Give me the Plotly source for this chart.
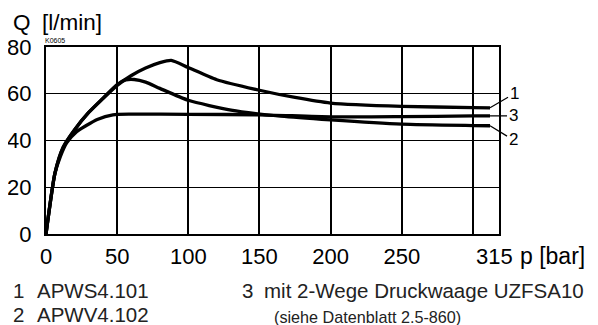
import plotly.graph_objects as go

# ---- data ----
p1 = [0, 6.3, 12, 20, 30, 40, 50, 60, 70, 80, 88, 100, 120, 150, 175, 200, 250, 300, 312]
q1 = [0, 26, 37, 44.5, 52, 58, 63.6, 67.8, 71, 73.3, 74.3, 71.2, 66, 61.5, 58.4, 56, 54.6, 54.1, 54]

p2 = [0, 6.3, 12, 20, 30, 40, 50, 56, 62, 70, 80, 100, 130, 165, 200, 250, 300, 312]
q2 = [0, 26, 37, 44.5, 52, 58, 63.9, 65.9, 66.1, 65, 62.3, 57.2, 53, 50.4, 48.8, 47, 46.4, 46.3]

p3 = [0, 6.3, 10, 14.5, 21.5, 28, 36, 47, 60, 100, 150, 200, 250, 300, 312]
q3 = [0, 26, 33, 39, 43.8, 46.3, 49, 51, 51.3, 51.2, 51, 50.1, 50.2, 50.5, 50.5]

x_ticks = [0, 50, 100, 150, 200, 250, 315]
x_tick_text = ["0", "50", "100", "150", "200", "250", "315"]
x_grid = [0, 50, 100, 150, 200, 250, 300]
y_ticks = [0, 20, 40, 60, 80]

curve_labels = ["1", "2", "3"]
legend_nums = ["1", "2", "3"]
legend_names = ["APWS4.101", "APWV4.102", "mit 2-Wege Druckwaage UZFSA10"]
note_text = "(siehe Datenblatt 2.5-860)"

FONT = "Liberation Sans, Arial, sans-serif"

fig = go.Figure()
for px, qy in [(p1, q1), (p2, q2), (p3, q3)]:
    fig.add_trace(go.Scatter(x=px, y=qy, mode="lines",
                             line=dict(color="black", width=3.3, shape="spline", smoothing=0.6),
                             showlegend=False, hoverinfo="skip"))

# page body has an 8px margin: figure is 590x317 so that it fills the 598x325 window
fig.update_layout(
    width=590, height=317,
    margin=dict(l=38, r=99, t=39, b=91, autoexpand=False),
    paper_bgcolor="white", plot_bgcolor="white",
    font=dict(family=FONT, color="black"),
    xaxis=dict(range=[0, 318.3], tickvals=x_ticks, ticktext=x_tick_text, automargin=False,
               showgrid=False, zeroline=False, ticks="",
               showline=True, linecolor="black", linewidth=2, mirror=True,
               tickfont=dict(size=22, color="black"), ticklabelstandoff=2,
               minor=dict(tickvals=x_grid, showgrid=True, gridcolor="black", gridwidth=1.8, ticks="")),
    yaxis=dict(range=[0, 80], tickvals=y_ticks, showgrid=True, gridcolor="black", gridwidth=1,
               zeroline=False, ticks="", automargin=False,
               showline=True, linecolor="black", linewidth=2, mirror=True,
               tickfont=dict(size=22, color="black"), ticklabelstandoff=8),
)

# curve labels with leader lines
ends = [(p1[-1], q1[-1], 24, -14), (p2[-1], q2[-1], 23, 14), (p3[-1], q3[-1], 23, 0)]
for lab, (ex, ey, ax, ay) in zip(curve_labels, ends):
    fig.add_annotation(x=ex, y=ey, text=lab, showarrow=True, arrowhead=0, arrowwidth=1.2,
                       arrowcolor="black", ax=ax, ay=ay, font=dict(size=17, color="black", family=FONT))

def ann(text, x, y, size, color="#222", xanchor="left"):
    fig.add_annotation(x=x, y=y, xref="paper", yref="paper", text=text, showarrow=False,
                       xanchor=xanchor, yanchor="middle", font=dict(size=size, color=color, family=FONT))

W, H = 453, 187
def px2paper(px, py):
    # reference-page pixels -> plot-area paper coordinates (plot area spans x 46..499, y 47..234)
    return (px - 46) / W, (234 - py) / H

ann("Q", *px2paper(11, 23), 22.5, color="black")
ann("[l/min]", *px2paper(40, 23), 22.5, color="black")
ann("K0605", *px2paper(43, 40.5), 7, color="black")
ann("p [bar]", *px2paper(518, 256), 23, color="black")

ann(legend_nums[0], *px2paper(11, 290), 20.5)
ann(legend_names[0], *px2paper(35, 290), 20.5)
ann(legend_nums[1], *px2paper(11, 314.5), 20.5)
ann(legend_names[1], *px2paper(35, 314.5), 20.5)
ann(legend_nums[2], *px2paper(240, 290), 20.5)
ann(legend_names[2], *px2paper(262, 290), 20.5)
ann(note_text, *px2paper(272, 316.5), 16.2)

fig.write_html("out.html")
